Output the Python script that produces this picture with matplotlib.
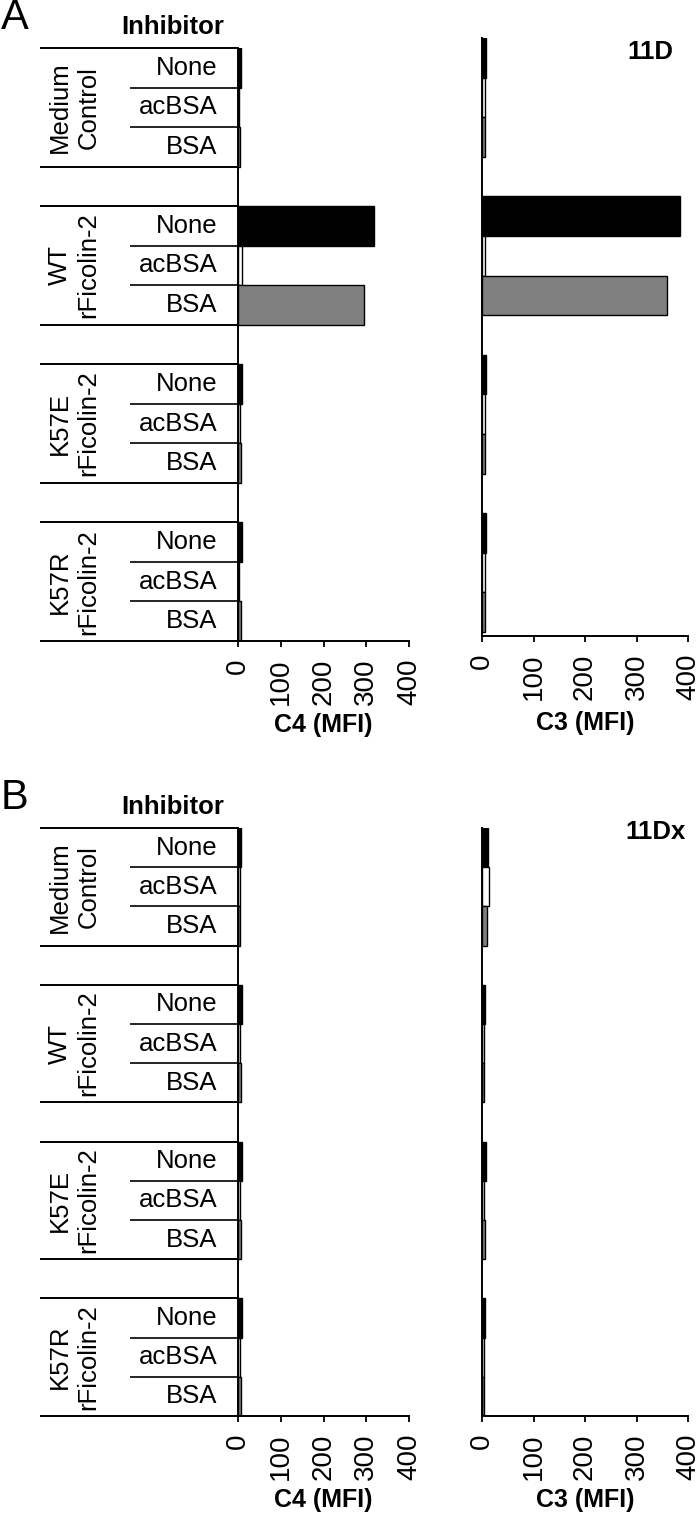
import matplotlib
matplotlib.use("Agg")
import matplotlib.pyplot as plt
import matplotlib.transforms as mtrans

plt.rcParams['font.family'] = ['Liberation Sans', 'DejaVu Sans']

groups = ["Medium\nControl", "WT\nrFicolin-2", "K57E\nrFicolin-2", "K57R\nrFicolin-2"]
inhibitors = ["None", "acBSA", "BSA"]
inhib_colors = ["black", "white", "#808080"]

# values per group, per inhibitor (None, acBSA, BSA)
A_C4 = [[8, 3, 5], [318, 9, 295], [10, 4, 6], [10, 3, 6]]
A_C3 = [[8, 5, 6], [384, 5, 360], [8, 5, 5], [8, 5, 5]]
B_C4 = [[8, 4, 5], [9, 4, 6], [9, 4, 6], [9, 4, 6]]
B_C3 = [[12, 13, 10], [6, 4, 4], [7, 4, 5], [6, 3, 4]]

xticks = [0, 100, 200, 300, 400]

W, H = 700, 1514
fig = plt.figure(figsize=(W / 100, H / 100), dpi=100)


def fx(px):
    return px / W


def fy(py):
    return 1 - py / H


def draw_bars(ax, vals, xlabel, ylim_bottom, label_y):
    for g, gv in enumerate(vals):
        for j, v in enumerate(gv):
            ax.barh(4 * g + j + 0.5, v, height=1.0, color=inhib_colors[j],
                    edgecolor="black", linewidth=1.0)
    ax.set_xlim(0, 400)
    ax.set_ylim(ylim_bottom, 0)
    ax.set_xticks(xticks)
    ax.set_xticklabels([str(t) for t in xticks], rotation=90, fontsize=20)
    ax.set_yticks([])
    ax.tick_params(axis="x", direction="out", length=4.5, width=1.3, pad=8)
    for s in ["top", "right"]:
        ax.spines[s].set_visible(False)
    for s in ["left", "bottom"]:
        ax.spines[s].set_linewidth(1.4)
    ax.patch.set_alpha(0)
    bb = ax.get_position()
    fig.text((bb.x0 + bb.x1) / 2, fy(label_y), xlabel, ha="center",
             va="center", fontsize=18, fontweight="bold")


def draw_table(ax, top_px):
    tr = mtrans.blended_transform_factory(fig.transFigure, ax.transData)
    for g in range(4):
        for yy in (4 * g, 4 * g + 3):
            ax.plot([fx(40), fx(238)], [yy, yy], color="black", lw=1.4,
                    transform=tr, clip_on=False, solid_capstyle="butt")
        for yy in (4 * g + 1, 4 * g + 2):
            ax.plot([fx(130), fx(238)], [yy, yy], color="black", lw=1.2,
                    transform=tr, clip_on=False, solid_capstyle="butt")
        ax.text(fx(74), 4 * g + 1.5, groups[g], rotation=90, ha="center",
                va="center", fontsize=18.5, transform=tr, linespacing=1.25,
                multialignment="center")
        for j, lab in enumerate(inhibitors):
            ax.text(fx(217), 4 * g + j + 0.5, lab, ha="right", va="center",
                    fontsize=18.5, transform=tr)
    fig.text(fx(173), fy(top_px - 21), "Inhibitor", ha="center", va="center",
             fontsize=18.5, fontweight="bold")


# Panel A
axA1 = fig.add_axes([fx(238), fy(641), fx(171), 593 / H])
draw_bars(axA1, A_C4, "C4 (MFI)", 15, 725)
draw_table(axA1, 48)
axA2 = fig.add_axes([fx(482), fy(636), fx(206), 598 / H])
draw_bars(axA2, A_C3, "C3 (MFI)", 15.1, 723)
fig.text(fx(673), fy(52), "11D", ha="right", va="center", fontsize=18.5,
         fontweight="bold")
fig.text(fx(1), fy(18), "A", ha="left", va="center", fontsize=30)

# Panel B
axB1 = fig.add_axes([fx(238), fy(1416), fx(171), 588 / H])
draw_bars(axB1, B_C4, "C4 (MFI)", 15, 1500)
draw_table(axB1, 828)
axB2 = fig.add_axes([fx(482), fy(1416), fx(206), 588 / H])
draw_bars(axB2, B_C3, "C3 (MFI)", 15, 1500)
fig.text(fx(686), fy(832), "11Dx", ha="right", va="center", fontsize=18.5,
         fontweight="bold")
fig.text(fx(1), fy(798), "B", ha="left", va="center", fontsize=30)

fig.savefig("out.png", dpi=100, facecolor="white")
